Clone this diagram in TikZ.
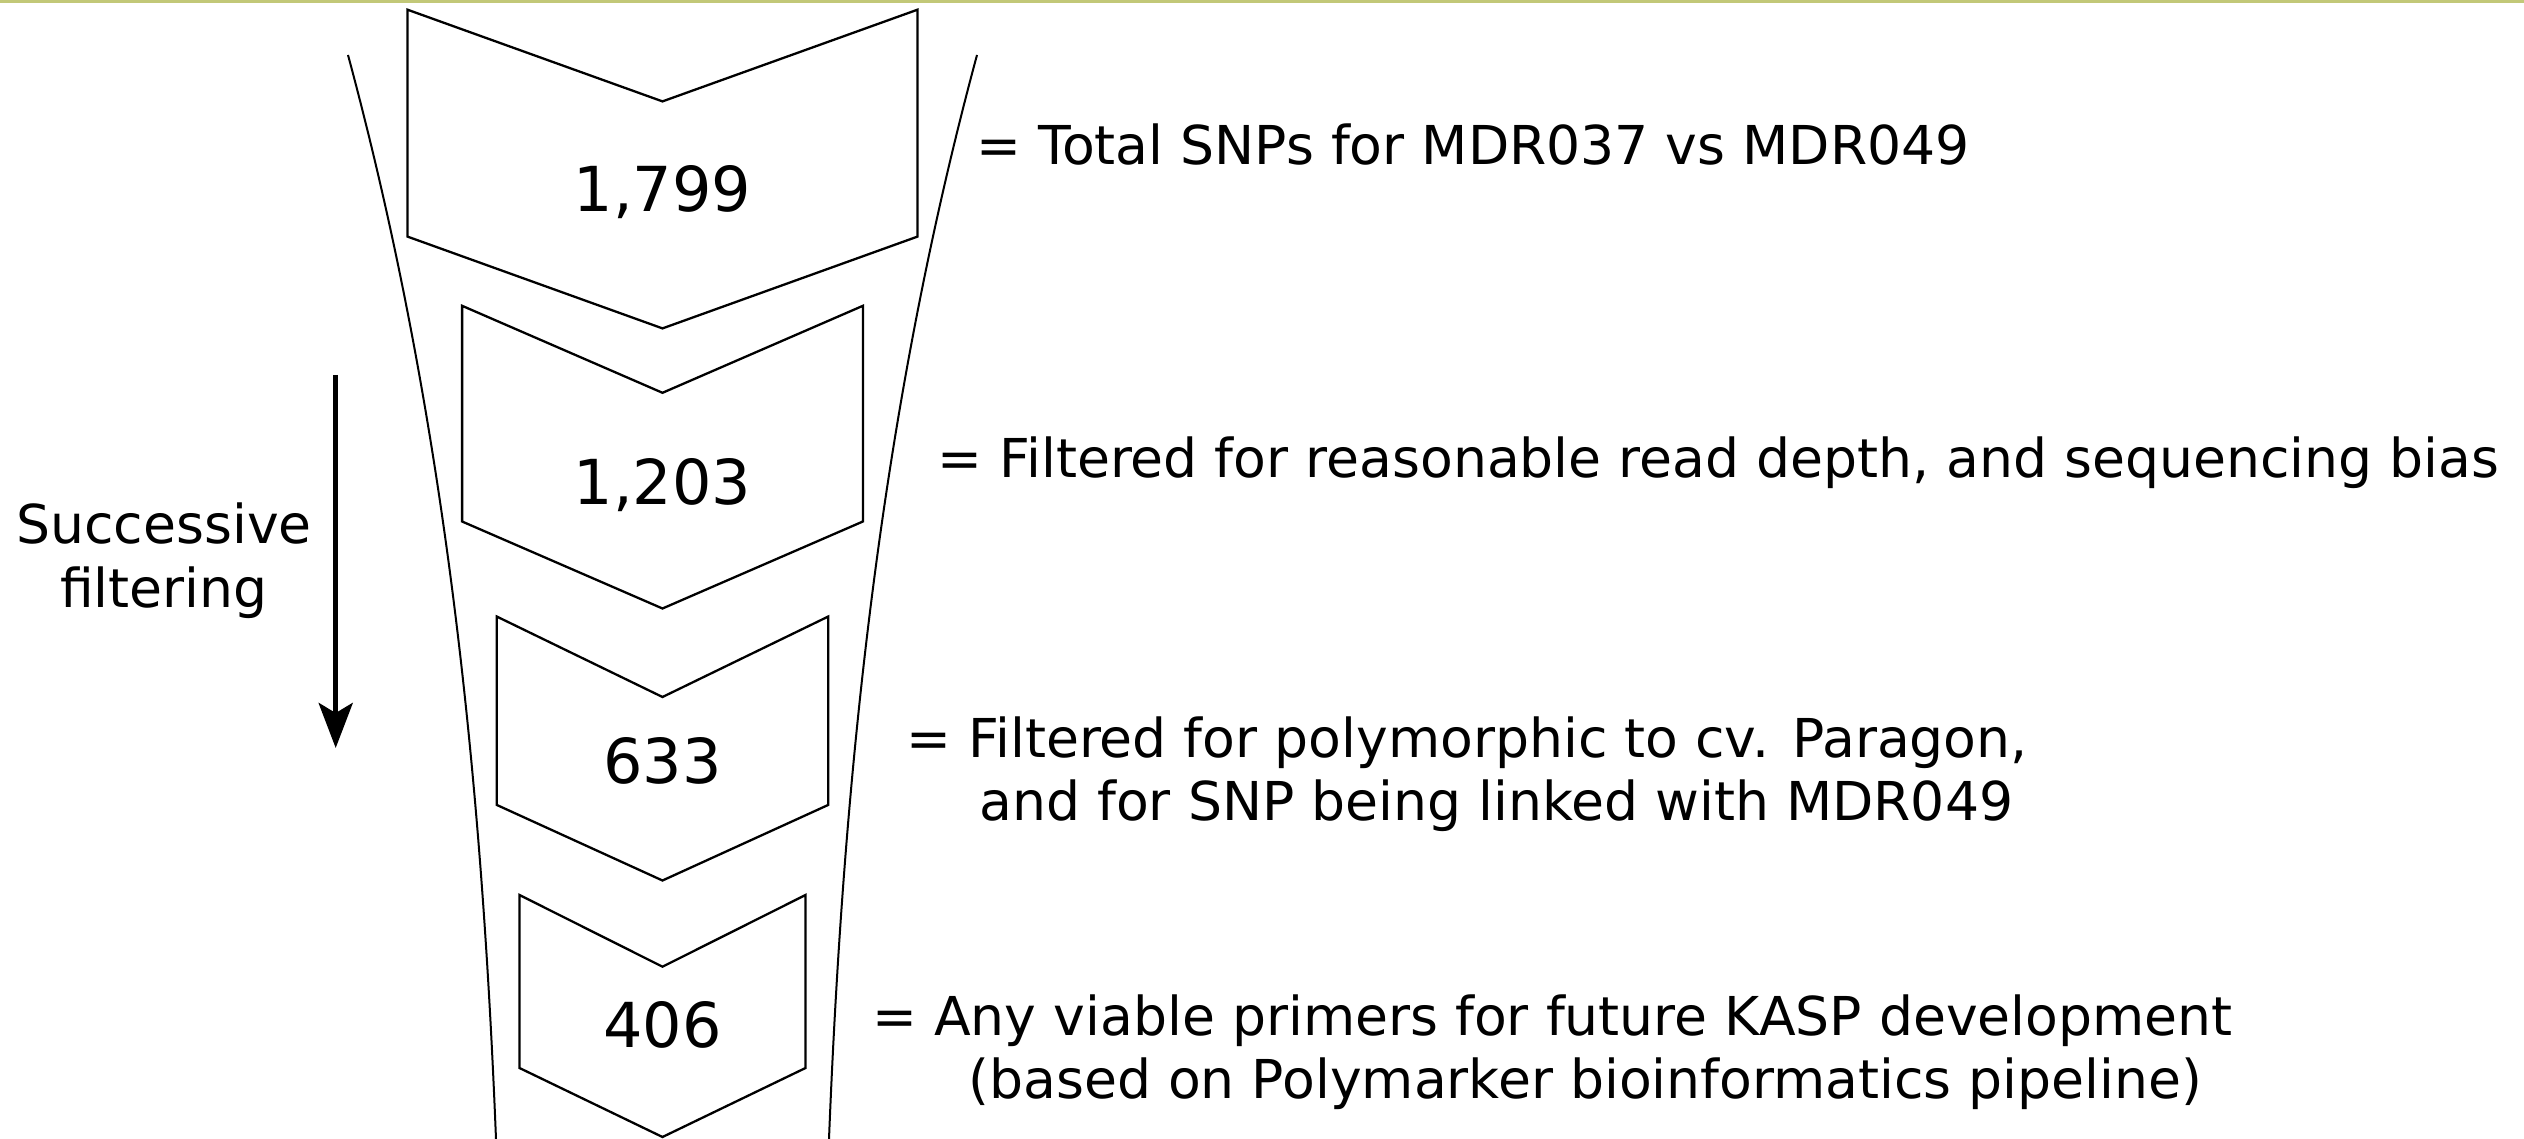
\documentclass[tikz,border=0pt]{standalone}
\usepackage{fontspec}
\setmainfont{DejaVu Sans}
\usetikzlibrary{arrows.meta}
\definecolor{topbar}{RGB}{194,200,120}
\tikzset{
  chev/.style={draw=black, line width=1.15pt, line join=miter},
  funnel/.style={draw=black, line width=1pt},
  numlbl/.style={inner sep=0pt, anchor=base, font=\fontsize{31pt}{36pt}\selectfont},
  desc/.style={inner sep=0pt, anchor=base west, font=\fontsize{26.8pt}{32pt}\selectfont},
  sidelbl/.style={inner sep=0pt, anchor=base, font=\fontsize{26.8pt}{32pt}\selectfont},
  flowarrow/.style={draw=black, line width=2.5pt, -{Stealth[length=22.5pt,width=17pt,inset=5pt]}}
}
\begin{document}
\begin{tikzpicture}[x=0.5pt,y=-0.5pt]
\useasboundingbox (0,0) rectangle (2524,1139);
\fill[topbar] (0,0) rectangle (2524,3.5);
% funnel
\draw[funnel] (348,55) .. controls (445.5,416) and (481.6,778) .. (496,1139);
\draw[funnel] (977,55) .. controls (879.5,416) and (843.4,778) .. (829,1139);
% chevrons
\def\cx{662.5}
\draw[chev] (\cx-255,9.7) -- (\cx,101.4) -- (\cx+255,9.7) -- (\cx+255,236.6) -- (\cx,328.4) -- (\cx-255,236.6) -- cycle;
\draw[chev] (\cx-200.4,305.8) -- (\cx,392.8) -- (\cx+200.4,305.8) -- (\cx+200.4,521.5) -- (\cx,608.5) -- (\cx-200.4,521.5) -- cycle;
\draw[chev] (\cx-165.8,616.5) -- (\cx,697) -- (\cx+165.8,616.5) -- (\cx+165.8,804.9) -- (\cx,880.5) -- (\cx-165.8,804.9) -- cycle;
\draw[chev] (\cx-143,895) -- (\cx,966.7) -- (\cx+143,895) -- (\cx+143,1068) -- (\cx,1137) -- (\cx-143,1068) -- cycle;
% numbers
\node[numlbl] (n1) at (\cx,211.5) {1,799};
\node[numlbl] (n2) at (\cx,504) {1,203};
\node[numlbl] (n3) at (\cx,783) {633};
\node[numlbl] (n4) at (\cx,1047.3) {406};
% descriptions
\node[desc] (d1) at (976,165) {= Total SNPs for MDR037 vs MDR049};
\node[desc] (d2) at (937,478) {= Filtered for reasonable read depth, and sequencing bias};
\node[desc] (d3a) at (906,757) {= Filtered for polymorphic to cv. Paragon,};
\node[desc] (d3b) at (979,820) {and for SNP being linked with MDR049};
\node[desc] (d4a) at (872,1035) {= Any viable primers for future KASP development};
\node[desc] (d4b) at (968,1098) {(based on Polymarker bioinformatics pipeline)};
% side label and arrow
\node[sidelbl] (s1) at (164,543) {Successive};
\node[sidelbl] (s2) at (164,607) {filtering};
\coordinate (astart) at (335.7,375);
\coordinate (aend) at (335.7,748);
\draw[flowarrow] (astart) -- (aend);
\end{tikzpicture}
\end{document}
